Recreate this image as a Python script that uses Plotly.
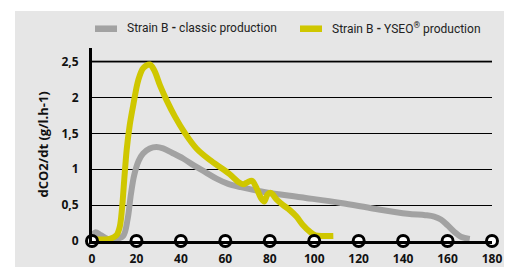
import plotly.graph_objects as go

# ---- data ----
classic_x = [0, 1.5, 4, 7, 11, 14, 16, 17.5, 19, 21, 23, 26, 29, 32, 36, 41, 46, 51, 56, 61,
             67, 78, 94, 112, 127, 142, 150, 154, 157, 160, 163, 166, 170]
classic_y = [0.05, 0.12, 0.08, 0.03, 0.03, 0.07, 0.3, 0.65, 0.92, 1.12, 1.22, 1.29, 1.31, 1.29,
             1.23, 1.15, 1.05, 0.96, 0.87, 0.8, 0.75, 0.68, 0.61, 0.53, 0.45, 0.38, 0.36,
             0.34, 0.30, 0.22, 0.13, 0.06, 0.03]

yseo_x = [0.5, 4, 8, 11, 12.5, 13.5, 14.5, 15.6, 17, 18.6, 20.8, 23.1, 26, 28, 30.6, 33.6,
          37.4, 41.9, 47, 53, 59, 62, 66, 68, 70, 72, 74, 76, 77.5, 79, 80.5, 83, 86, 89,
          92, 95, 98, 100.5, 104, 108.6]
yseo_y = [0.03, 0.02, 0.03, 0.08, 0.2, 0.45, 0.85, 1.27, 1.62, 1.9, 2.24, 2.41, 2.46, 2.38,
          2.17, 1.96, 1.73, 1.5, 1.29, 1.13, 1.0, 0.93, 0.82, 0.79, 0.82, 0.84, 0.74, 0.6,
          0.55, 0.65, 0.67, 0.58, 0.5, 0.43, 0.34, 0.22, 0.13, 0.08, 0.07, 0.07]

x_ticks = [0, 20, 40, 60, 80, 100, 120, 140, 160, 180]
x_ticktext = ["0", "20", "40", "60", "80", "100", "120", "140", "160", "180"]
y_ticks = [0, 0.5, 1, 1.5, 2, 2.5]
y_ticktext = ["0", "0,5", "1", "1,5", "2", "2,5"]

series_names = ["Strain B <b>-</b> classic production", "Strain B <b>-</b> YSEO<sup>®</sup> production"]
y_title = "dCO2/dt (g/l.h-1)"

GRAY = "#a2a2a2"
YELLOW = "#cfc700"
BG = "#e6e6e6"

fig = go.Figure()
fig.add_trace(go.Scatter(x=classic_x, y=classic_y, mode="lines",
                         line=dict(color=GRAY, width=6, shape="spline", smoothing=1.0),
                         showlegend=False))
fig.add_trace(go.Scatter(x=yseo_x, y=yseo_y, mode="lines",
                         line=dict(color=YELLOW, width=6, shape="spline", smoothing=0.9),
                         showlegend=False))
# axis circles
fig.add_trace(go.Scatter(x=x_ticks, y=[0] * len(x_ticks), mode="markers",
                         marker=dict(size=11, color="white", line=dict(color="black", width=3)),
                         cliponaxis=False, showlegend=False, hoverinfo="skip"))

tick_font = dict(family="Open Sans, DejaVu Sans, sans-serif", size=12, color="#111", weight="bold")
legend_font = dict(family="Roboto, Liberation Sans, sans-serif", size=12, color="#222")

fig.update_layout(
    width=506, height=267, autosize=False, showlegend=False,
    margin=dict(l=92, r=14, t=48, b=26, pad=0, autoexpand=False),
    paper_bgcolor="white", plot_bgcolor=BG,
    xaxis=dict(range=[0, 180], tickvals=x_ticks, ticktext=x_ticktext, showgrid=False,
               zeroline=False, showline=True, linecolor="black", linewidth=3, ticks="",
               tickfont=tick_font, ticklabelstandoff=5, fixedrange=True, automargin=False),
    yaxis=dict(range=[0, 2.69], tickvals=y_ticks, ticktext=y_ticktext, showgrid=True,
               gridcolor="black", gridwidth=1.3, zeroline=False, showline=True,
               linecolor="black", linewidth=3, ticks="", tickfont=tick_font,
               ticklabelstandoff=8, fixedrange=True, automargin=False),
    shapes=[
        dict(type="rect", xref="paper", yref="paper", x0=-0.1925, x1=1.03, y0=-0.2, y1=1.192,
             fillcolor=BG, line=dict(width=0), layer="below"),
        dict(type="line", xref="paper", yref="y", x0=0, x1=1, y0=2.5, y1=2.5,
             line=dict(color="#555555", width=2.2), layer="below"),
        dict(type="rect", xref="paper", yref="paper", x0=0.0075, x1=0.0625, y0=1.083, y1=1.1168,
             fillcolor=GRAY, line=dict(width=0)),
        dict(type="rect", xref="paper", yref="paper", x0=0.52, x1=0.575, y0=1.083, y1=1.1168,
             fillcolor=YELLOW, line=dict(width=0)),
    ],
    annotations=[
        dict(text=series_names[0], xref="paper", yref="paper", x=0.0825, y=1.1038,
             xanchor="left", yanchor="middle", showarrow=False, font=legend_font),
        dict(text=series_names[1], xref="paper", yref="paper", x=0.595, y=1.1038,
             xanchor="left", yanchor="middle", showarrow=False, font=legend_font),
        dict(text="<b>" + y_title + "</b>", xref="paper", yref="paper", x=-0.125, y=0.5,
             xanchor="center", yanchor="middle", textangle=-90, showarrow=False,
             font=dict(family="Open Sans, DejaVu Sans, sans-serif", size=13, color="#111")),
    ],
)

fig.write_html("out.html", post_script="document.body.style.margin='0';",
               config={"displayModeBar": False})
